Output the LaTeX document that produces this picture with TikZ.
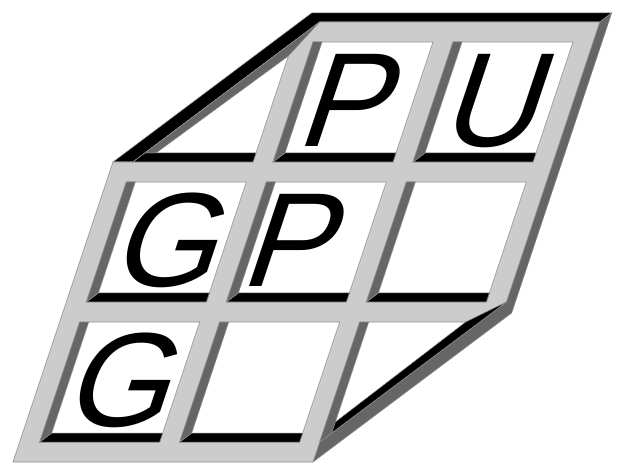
\documentclass[tikz,border=0pt]{standalone}
\usepackage{fontspec}
\setmainfont{Liberation Sans}
\definecolor{lgray}{HTML}{CCCCCC}
\definecolor{dgray}{HTML}{666666}
\definecolor{rim}{HTML}{8C8C8C}
\tikzset{
  face/.style={fill=lgray, draw=rim, line width=0.6pt, line join=miter},
  hole/.style={fill=white, draw=rim, line width=0.6pt},
  topwall/.style={fill=black, draw=rim, line width=0.5pt, line join=miter},
  sidewall/.style={fill=dgray, draw=rim, line width=0.5pt, line join=miter},
  letter/.style={font=\fontsize{134pt}{134pt}\selectfont, inner sep=0pt, anchor=base, xslant=0.3333}
}
\begin{document}
\begin{tikzpicture}
\useasboundingbox (0pt,-7pt) rectangle (621pt,462pt);
\begin{scope}[x={(1pt,0pt)}, y={(0.333333pt,1pt)}]
  % outer visible faces
  \path[topwall] (13,300) -- (162,449) -- (462,449) -- (453,440) -- (173,440) -- (33,300) -- cycle;
  \path[sidewall] (313,0) -- (462,149) -- (462,449) -- (453,440) -- (453,160) -- (313,20) -- cycle;
  % front face of the lattice
  \path[face] (13,0) -- (13,300) -- (33,300) -- (173,440) -- (453,440) -- (453,160) -- (313,20) -- (313,0) -- cycle;
  % square openings
  \foreach \a/\b in {173/300, 313/300, 33/160, 173/160, 313/160, 33/20, 173/20}{
    \path[hole] (\a,\b) -- ++(120,0) -- ++(0,120) -- ++(-120,0) -- cycle;
    \path[topwall] (\a,\b) -- ++(120,0) -- ++(0,9) -- ++(-111,0) -- cycle;
    \path[sidewall] (\a,\b) -- ++(9,9) -- ++(0,111) -- ++(-9,0) -- cycle;
  }
  % top-left triangular opening
  \path[hole] (33,300) -- (153,300) -- (153,420) -- cycle;
  \path[topwall] (33,300) -- (153,300) -- (153,309) -- (42,309) -- cycle;
  \path[sidewall] (42,309) -- (53,309) -- (153,406) -- (173,440) -- cycle;
  % bottom-right triangular opening
  \path[hole] (313,20) -- (313,140) -- (433,140) -- cycle;
  \path[sidewall] (313,20) -- (322,29) -- (322,140) -- (313,140) -- cycle;
  \path[topwall] (322,29) -- (322,40) -- (419,140) -- (453,160) -- cycle;
\end{scope}
% letters
\node[letter] (p1) at (339pt,315.5pt) {P};
\node[letter] (u1) at (486pt,315.5pt) {U};
\node[letter] (g2) at (161pt,175.5pt) {G};
\node[letter] (p2) at (283pt,175.5pt) {P};
\node[letter] (g3) at (114pt,36pt) {G};
\end{tikzpicture}
\end{document}
